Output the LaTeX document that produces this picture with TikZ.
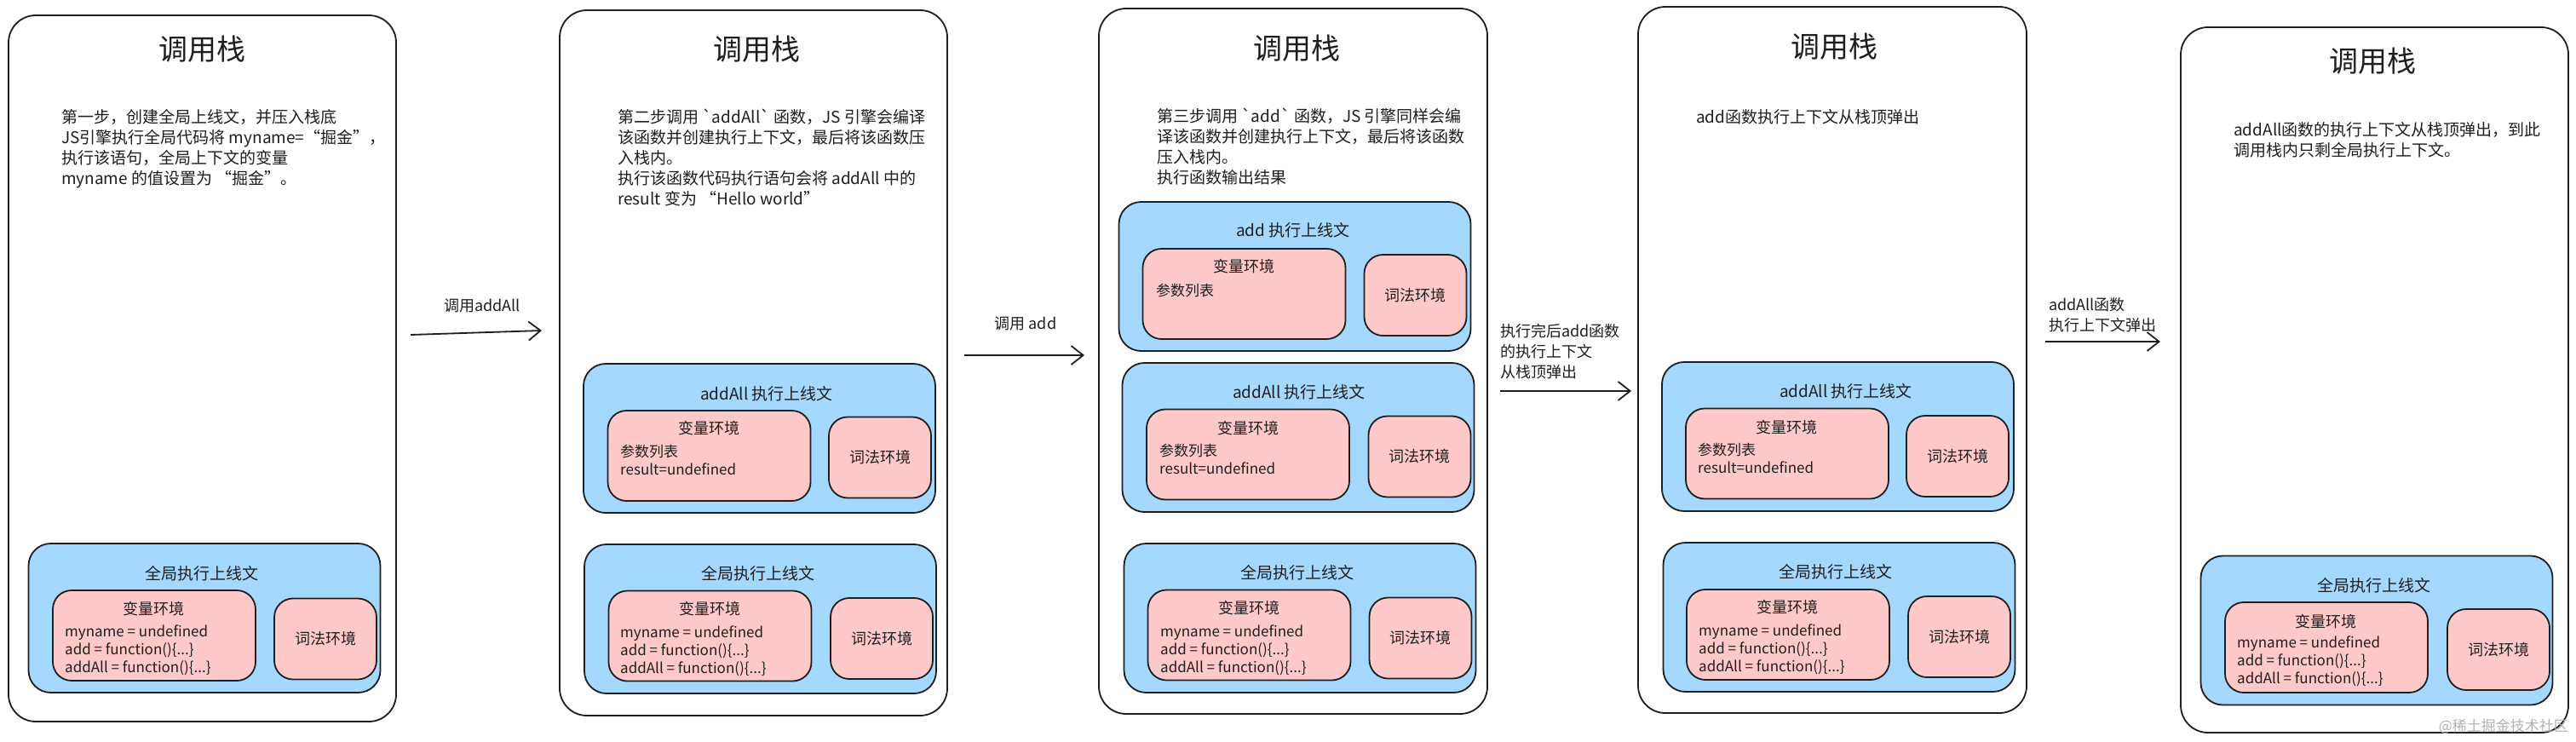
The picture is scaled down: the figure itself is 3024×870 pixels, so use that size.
\documentclass[tikz,border=0pt]{standalone}
\usepackage{fontspec}
\setmainfont{Noto Sans CJK SC}[Ligatures=TeXOff]
\usetikzlibrary{arrows.meta}
\definecolor{ink}{HTML}{1E1E1E}
\definecolor{ctxblue}{HTML}{A5D8FF}
\definecolor{envpink}{HTML}{FFC9C9}
\begin{document}
\begin{tikzpicture}[x=1pt, y=-1pt, text=ink,
    stackbox/.style={draw=ink, line width=1.8pt, fill=white, rounded corners=32pt},
    ctxbox/.style={draw=ink, line width=1.8pt, fill=ctxblue, rounded corners=26pt, minimum width=413, minimum height=175},
    varbox/.style={draw=ink, line width=1.8pt, fill=envpink, rounded corners=22pt, minimum width=238, minimum height=106},
    lexbox/.style={draw=ink, line width=1.8pt, fill=envpink, rounded corners=22pt, minimum width=120, minimum height=95, font=\fontsize{18}{22}\selectfont},
    stacktitle/.style={font=\fontsize{34}{40}\selectfont},
    note/.style={font=\fontsize{19}{24}\selectfont, align=left, anchor=north west, inner sep=0},
    ctxtitle/.style={font=\fontsize{19}{24}\selectfont},
    envtitle/.style={font=\fontsize{18}{22}\selectfont},
    vartext/.style={font=\fontsize{17}{21}\selectfont, align=left, anchor=north west, inner sep=0},
    arr/.style={draw=ink, line width=1.8pt, -{Straight Barb[length=14pt, width=22pt]}},
    arrlabel/.style={font=\fontsize{18}{24}\selectfont, align=left, inner sep=0}]
        \path[fill=white] (0,0) rectangle (3024,870);
        \useasboundingbox (0,0) rectangle (3024,870);

        % step 1
        \node[stackbox, minimum width=455, minimum height=829] (stack1) at (237.5,432.5) {};
        \node[stacktitle] (title1) at (237,58) {调用栈};
        \node[note] (step1) at (72,128) {第一步，创建全局上线文，并压入栈底\\JS引擎执行全局代码将 myname=“掘金”，\\执行该语句，全局上下文的变量\\myname 的值设置为 “掘金”。};
        \node[ctxbox] (global1) at (240,725.5) {};
        \node[ctxtitle] (globalTitle1) at (237,673) {全局执行上线文};
        \node[varbox] (globalVar1) at (181,746) {};
        \node[envtitle] (globalVarTitle1) at (180,715) {变量环境};
        \node[vartext] (globalVarText1) at (76,734) {myname = undefined\\add = function()\{...\}\\addAll = function()\{...\}};
        \node[lexbox] (globalLex1) at (382,750) {词法环境};

        % step 2
        \node[stackbox, minimum width=455, minimum height=828] (stack2) at (884.5,426) {};
        \node[stacktitle] (title2) at (888,58) {调用栈};
        \node[note] (step2) at (725,128) {第二步调用 \textasciigrave addAll\textasciigrave{} 函数，JS 引擎会编译\\该函数并创建执行上下文，最后将该函数压\\入栈内。\\执行该函数代码执行语句会将 addAll 中的\\result 变为 “Hello world”};
        \node[ctxbox] (addAll2) at (891.5,514.5) {};
        \node[ctxtitle] (addAllTitle2) at (900,462) {addAll 执行上线文};
        \node[varbox] (addAllVar2) at (832.5,535) {};
        \node[envtitle] (addAllVarTitle2) at (832,503) {变量环境};
        \node[vartext] (addAllVarText2) at (728,522) {参数列表\\result=undefined};
        \node[lexbox] (addAllLex2) at (1033,537) {词法环境};
        \node[ctxbox] (global2) at (892.5,726.5) {};
        \node[ctxtitle] (globalTitle2) at (890,673) {全局执行上线文};
        \node[varbox] (globalVar2) at (833.5,746.5) {};
        \node[envtitle] (globalVarTitle2) at (833,715) {变量环境};
        \node[vartext] (globalVarText2) at (728,735) {myname = undefined\\add = function()\{...\}\\addAll = function()\{...\}};
        \node[lexbox] (globalLex2) at (1035,749.5) {词法环境};

        % step 3
        \node[stackbox, minimum width=456, minimum height=828] (stack3) at (1518,424) {};
        \node[stacktitle] (title3) at (1522,57) {调用栈};
        \node[note] (step3) at (1358,127) {第三步调用 \textasciigrave add\textasciigrave{} 函数，JS 引擎同样会编\\译该函数并创建执行上下文，最后将该函数\\压入栈内。\\执行函数输出结果};
        \node[ctxbox] (add3) at (1520,324.5) {};
        \node[ctxtitle] (addTitle3) at (1518,270) {add 执行上线文};
        \node[varbox] (addVar3) at (1460.5,345) {};
        \node[envtitle] (addVarTitle3) at (1460,313) {变量环境};
        \node[vartext] (addVarText3) at (1357,333) {参数列表};
        \node[lexbox] (addLex3) at (1661.5,346.5) {词法环境};
        \node[ctxbox] (addAll3) at (1524,513.5) {};
        \node[ctxtitle] (addAllTitle3) at (1525,460) {addAll 执行上线文};
        \node[varbox] (addAllVar3) at (1465,533.5) {};
        \node[envtitle] (addAllVarTitle3) at (1465,503) {变量环境};
        \node[vartext] (addAllVarText3) at (1361,521) {参数列表\\result=undefined};
        \node[lexbox] (addAllLex3) at (1666.5,536) {词法环境};
        \node[ctxbox] (global3) at (1526,725.5) {};
        \node[ctxtitle] (globalTitle3) at (1523,672) {全局执行上线文};
        \node[varbox] (globalVar3) at (1466.5,745.5) {};
        \node[envtitle] (globalVarTitle3) at (1466,714) {变量环境};
        \node[vartext] (globalVarText3) at (1362,734) {myname = undefined\\add = function()\{...\}\\addAll = function()\{...\}};
        \node[lexbox] (globalLex3) at (1667.5,749) {词法环境};

        % step 4
        \node[stackbox, minimum width=456, minimum height=829] (stack4) at (2151,422.5) {};
        \node[stacktitle] (title4) at (2153,55) {调用栈};
        \node[note, anchor=west] (step4) at (1991,137) {add函数执行上下文从栈顶弹出};
        \node[ctxbox] (addAll4) at (2157.5,512.5) {};
        \node[ctxtitle] (addAllTitle4) at (2167,459) {addAll 执行上线文};
        \node[varbox] (addAllVar4) at (2098,532.5) {};
        \node[envtitle] (addAllVarTitle4) at (2097,502) {变量环境};
        \node[vartext] (addAllVarText4) at (1993,520) {参数列表\\result=undefined};
        \node[lexbox] (addAllLex4) at (2298,535.5) {词法环境};
        \node[ctxbox] (global4) at (2159,724.5) {};
        \node[ctxtitle] (globalTitle4) at (2155,671) {全局执行上线文};
        \node[varbox] (globalVar4) at (2099,745) {};
        \node[envtitle] (globalVarTitle4) at (2098,713) {变量环境};
        \node[vartext] (globalVarText4) at (1994,733) {myname = undefined\\add = function()\{...\}\\addAll = function()\{...\}};
        \node[lexbox] (globalLex4) at (2300,747.5) {词法环境};

        % step 5
        \node[stackbox, minimum width=455, minimum height=828] (stack5) at (2787.5,446) {};
        \node[stacktitle] (title5) at (2785,72) {调用栈};
        \node[note] (step5) at (2622,143) {addAll函数的执行上下文从栈顶弹出，到此\\调用栈内只剩全局执行上下文。};
        \node[ctxbox] (global5) at (2790,740) {};
        \node[ctxtitle] (globalTitle5) at (2787,687) {全局执行上线文};
        \node[varbox] (globalVar5) at (2731,760) {};
        \node[envtitle] (globalVarTitle5) at (2730,730) {变量环境};
        \node[vartext] (globalVarText5) at (2626,747) {myname = undefined\\add = function()\{...\}\\addAll = function()\{...\}};
        \node[lexbox] (globalLex5) at (2933,762.5) {词法环境};
        \node[font=\fontsize{17}{20}\selectfont, text=black!30, anchor=east, inner sep=0] (mark) at (3015,853) {@稀土掘金技术社区};

        % arrows between the steps
        \coordinate (callAddAllStart) at (482,393);
        \coordinate (callAddAllEnd) at (636,388);
        \coordinate (callAddStart) at (1132,417);
        \coordinate (callAddEnd) at (1273,417);
        \coordinate (popAddStart) at (1761,459);
        \coordinate (popAddEnd) at (1915,459);
        \coordinate (popAddAllStart) at (2401,401);
        \coordinate (popAddAllEnd) at (2536,401);

        \draw[arr] (callAddAllStart) -- (callAddAllEnd);
        \draw[arr] (callAddStart) -- (callAddEnd);
        \draw[arr] (popAddStart) -- (popAddEnd);
        \draw[arr] (popAddAllStart) -- (popAddAllEnd);

        \node[arrlabel] (callAddAllLabel) at (566,359) {调用addAll};
        \node[arrlabel] (callAddLabel) at (1204,380) {调用 add};
        \node[arrlabel, anchor=north west] (popAddLabel) at (1761,380) {执行完后add函数\\的执行上下文\\从栈顶弹出};
        \node[arrlabel, anchor=north west] (popAddAllLabel) at (2405,349) {addAll函数\\执行上下文弹出};
\end{tikzpicture}
\end{document}
